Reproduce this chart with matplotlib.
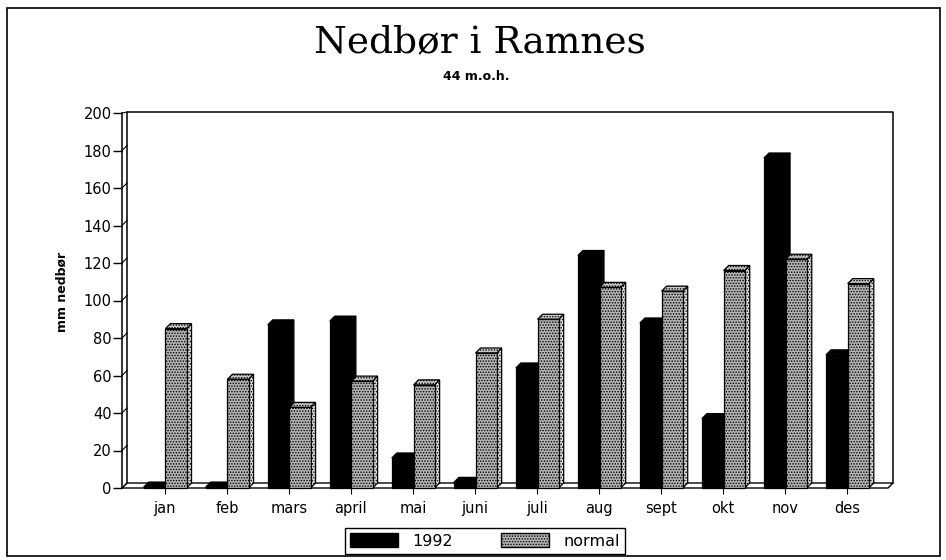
import matplotlib.pyplot as plt
from matplotlib.patches import Rectangle, Polygon, Patch

months = ['jan', 'feb', 'mars', 'april', 'mai', 'juni',
          'juli', 'aug', 'sept', 'okt', 'nov', 'des']
rain_1992 = [0.5, 0.5, 87, 89, 16, 3, 64, 124, 88, 37, 176, 71]
normal = [85, 58, 43, 57, 55, 72, 90, 107, 105, 116, 122, 109]
yticks = list(range(0, 201, 20))

W, H = 946, 560
fig = plt.figure(figsize=(W / 100, H / 100), dpi=100)
ax = fig.add_axes([122 / W, 1 - 488 / H, 766 / W, 375 / H])
x_left, x_right = -0.69, 11.66
ax.set_xlim(x_left, x_right)
ax.set_ylim(0, 200)

# 3d depth offset (about 5 px each way)
dx, dy = 0.081, 2.67
GRAY = '#b4b4b4'
plt.rcParams['hatch.linewidth'] = 0.7
plt.rcParams['hatch.color'] = '#3a3a3a'


def add(p):
    p.set_clip_on(False)
    ax.add_patch(p)


def bar3d(x0, w, h, face, top, side, hatch=None):
    front = [(x0, 0), (x0, h), (x0 + w, h), (x0 + w, 0)]
    topf = [(x0, h), (x0 + dx, h + dy), (x0 + w + dx, h + dy), (x0 + w, h)]
    sidef = [(x0 + w, 0), (x0 + w + dx, dy), (x0 + w + dx, h + dy), (x0 + w, h)]
    for pts, fc in ((sidef, side), (topf, top), (front, face)):
        add(Polygon(pts, closed=True, facecolor=fc, edgecolor='black',
                    hatch=hatch, linewidth=0.9))


# back wall
wall_x = x_left + dx
ax.plot([wall_x, wall_x, x_right + dx, x_right + dx],
        [dy, 200.5, 200.5, dy], color='black', lw=1.1, clip_on=False)
# hooks from axis ticks to the wall
for t in yticks:
    ax.plot([x_left, wall_x], [t, min(t + dy, 200.5)], color='black',
            lw=0.8, clip_on=False)
# floor
add(Polygon([(x_left, 0), (x_left + dx, dy), (x_right + dx, dy), (x_right, 0)],
            closed=True, facecolor='white', edgecolor='black', linewidth=1.0))

for i in range(len(months)):
    bar3d(i - 0.34, 0.34, rain_1992[i], 'black', 'black', 'black')
    bar3d(i + 0.01, 0.34, normal[i], GRAY, '#c8c8c8', '#dedede', hatch='......')

for s in ['top', 'right', 'bottom']:
    ax.spines[s].set_visible(False)
ax.spines['left'].set_linewidth(1.1)
ax.set_yticks(yticks)
ax.set_xticks(range(len(months)))
ax.set_xticklabels(months)
ax.tick_params(axis='y', direction='out', length=6.5, width=1, pad=1,
               labelsize=10.5)
ax.tick_params(axis='x', direction='out', length=4.5, width=0.8, pad=5,
               labelsize=10.5)
ax.patch.set_visible(False)

fig.text(480 / W, 1 - 42 / H, 'Nedbør i Ramnes', ha='center', va='center',
         fontsize=27, family='DejaVu Serif')
fig.text(476 / W, 1 - 76 / H, '44 m.o.h.', ha='center', va='center',
         fontsize=9, weight='bold')
fig.text(62 / W, 1 - 292 / H, 'mm nedbør', rotation=90, ha='center',
         va='center', fontsize=9, weight='bold')

handles = [Patch(facecolor='black', edgecolor='black'),
           Patch(facecolor=GRAY, edgecolor='black', hatch='......')]
leg = fig.legend(handles, ['1992', 'normal'], ncol=2, loc='center',
                 bbox_to_anchor=(485 / W, 1 - 541 / H), frameon=True,
                 fancybox=False, edgecolor='black', framealpha=1,
                 handlelength=3.0, handleheight=0.9, columnspacing=3.0,
                 handletextpad=0.9, borderpad=0.35, borderaxespad=0,
                 fontsize=11.5)
leg.get_frame().set_linewidth(1.0)

fig.add_artist(Rectangle((7 / W, 1 - 556 / H), 933 / W, 548 / H,
                         transform=fig.transFigure, fill=False,
                         edgecolor='black', lw=1.2))

fig.savefig('out.png', dpi=100)
